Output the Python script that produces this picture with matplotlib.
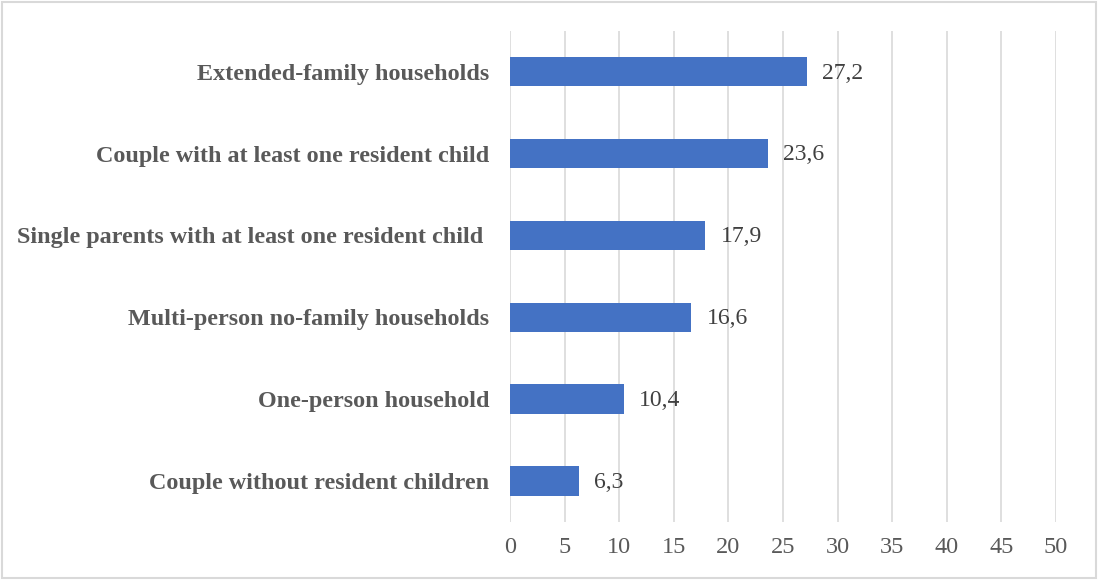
import matplotlib.pyplot as plt
from matplotlib.patches import Rectangle

categories = [
    "Couple without resident children",
    "One-person household",
    "Multi-person no-family households",
    "Single parents with at least one resident child ",
    "Couple with at least one resident child",
    "Extended-family households",
]
values = [6.3, 10.4, 16.6, 17.9, 23.6, 27.2]
xticks = [0, 5, 10, 15, 20, 25, 30, 35, 40, 45, 50]

text_color = "#595959"
grid_color = "#d9d9d9"
bar_color = "#4472c4"

plt.rcParams["font.family"] = ["Liberation Serif", "DejaVu Serif"]

fig = plt.figure(figsize=(10.98, 5.80), dpi=100)
ax = fig.add_axes([0.4645, 0.10, 0.4972, 0.847])

ypos = list(range(len(categories)))
ax.barh(ypos, values, height=0.36, color=bar_color, zorder=3)

for y, v in zip(ypos, values):
    ax.annotate(f"{v:.1f}".replace(".", ","), xy=(v, y), xytext=(11, -1),
                textcoords="offset points", va="center", ha="left",
                fontsize=17, color="#404040")

ax.set_xlim(0, 50)
ax.set_ylim(-0.5, len(categories) - 0.5)
ax.set_xticks(xticks)
ax.set_xticklabels([str(t) for t in xticks], fontsize=17.5, color=text_color)
ax.set_yticks(ypos)
ax.set_yticklabels(categories, fontsize=17.4, fontweight="bold", color=text_color)
ax.tick_params(axis="both", length=0)
ax.tick_params(axis="y", pad=15)
ax.tick_params(axis="x", pad=11)

ax.xaxis.grid(True, color=grid_color, linewidth=1.2, zorder=0)
ax.set_axisbelow(True)
for s in ax.spines.values():
    s.set_visible(False)

fig.patches.append(Rectangle((0.002, 0.003), 0.996, 0.994, transform=fig.transFigure,
                             fill=False, edgecolor=grid_color, linewidth=1.5))

fig.savefig("out.png", dpi=100)
